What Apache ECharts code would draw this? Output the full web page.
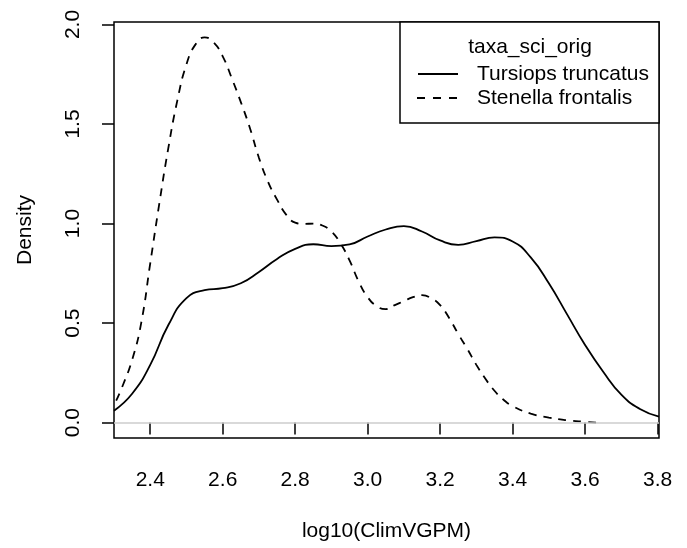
<!DOCTYPE html>
<html>
<head>
<meta charset="utf-8">
<script src="https://cdn.jsdelivr.net/npm/echarts@6/dist/echarts.min.js"></script>
<style>
  html, body { margin: 0; padding: 0; background: #fff; }
  #chart { width: 687px; height: 548px; }
</style>
</head>
<body>
<div id="chart"></div>
<script>
const FONT = "Liberation Sans, Arial, Helvetica, sans-serif"

// tick positions
const xTicks = [2.4, 2.6, 2.8, 3.0, 3.2, 3.4, 3.6, 3.8]
const yTicks = [0, 0.5, 1.0, 1.5, 2.0]

const legendTitle = "taxa_sci_orig"
const seriesNames = ["Tursiops truncatus", "Stenella frontalis"]

// density estimates: [x, density]
const tursiops = [
    [2.30, 0.06], [2.35, 0.145], [2.40, 0.29], [2.45, 0.49], [2.50, 0.625],
    [2.55, 0.665], [2.60, 0.675], [2.65, 0.70], [2.70, 0.757], [2.75, 0.822],
    [2.80, 0.873], [2.85, 0.896], [2.90, 0.886], [2.95, 0.895], [3.00, 0.935],
    [3.05, 0.97], [3.10, 0.987], [3.15, 0.96], [3.20, 0.915], [3.25, 0.893],
    [3.30, 0.912], [3.35, 0.93], [3.40, 0.91], [3.45, 0.83], [3.50, 0.70],
    [3.55, 0.545], [3.60, 0.39], [3.65, 0.255], [3.70, 0.14], [3.75, 0.07],
    [3.804, 0.03],
]
const stenella = [
    [2.306, 0.11], [2.325, 0.19], [2.35, 0.315], [2.375, 0.50], [2.40, 0.80],
    [2.425, 1.10], [2.45, 1.38], [2.475, 1.62], [2.50, 1.80], [2.525, 1.90],
    [2.55, 1.935], [2.575, 1.91], [2.60, 1.84], [2.625, 1.73], [2.65, 1.61],
    [2.675, 1.48], [2.70, 1.33], [2.725, 1.21], [2.75, 1.12], [2.775, 1.045],
    [2.80, 1.005], [2.825, 0.998], [2.85, 1.0], [2.875, 0.99], [2.90, 0.96],
    [2.925, 0.90], [2.95, 0.815], [2.975, 0.71], [3.00, 0.63], [3.025, 0.585],
    [3.05, 0.57], [3.075, 0.59], [3.10, 0.61], [3.125, 0.63], [3.15, 0.64],
    [3.175, 0.625], [3.20, 0.59], [3.225, 0.525], [3.25, 0.445], [3.275, 0.37],
    [3.30, 0.29], [3.325, 0.22], [3.35, 0.16], [3.375, 0.115], [3.40, 0.083],
    [3.45, 0.045], [3.50, 0.025], [3.55, 0.012], [3.60, 0.004], [3.633, 0.0],
]

const chart = echarts.init(document.getElementById("chart"), null, { renderer: "canvas" })

const tickStyle = { color: "#000", width: 1.5 }
const labelStyle = {
    color: "#000",
    fontSize: 21,
    fontFamily: FONT,
}

const option = {
    animation: false,
    backgroundColor: "#fff",
    grid: {
        left: 114,
        right: 28,
        top: 22,
        bottom: 110,
        show: true,
        borderColor: "#000",
        borderWidth: 1.5,
        outerBoundsMode: "none",
    },
    xAxis: {
        type: "value",
        min: 2.3,
        max: 3.804,
        name: "log10(ClimVGPM)",
        nameLocation: "middle",
        nameGap: 83,
        nameTextStyle: labelStyle,
        axisLine: { show: false },
        splitLine: { show: false },
        axisTick: { customValues: xTicks, length: 12, lineStyle: tickStyle },
        axisLabel: {
            customValues: xTicks,
            margin: 32,
            formatter: v => v.toFixed(1),
            ...labelStyle,
        },
    },
    yAxis: {
        type: "value",
        min: -0.0774,
        max: 2.0124,
        name: "Density",
        nameLocation: "middle",
        nameGap: 78,
        nameTextStyle: labelStyle,
        axisLine: { show: false },
        splitLine: { show: false },
        axisTick: { customValues: yTicks, length: 12, lineStyle: tickStyle },
        axisLabel: {
            customValues: yTicks,
            rotate: 90,
            margin: 30,
            formatter: v => v.toFixed(1),
            ...labelStyle,
        },
    },
    series: [
        {
            name: seriesNames[0],
            type: "line",
            data: tursiops,
            showSymbol: false,
            smooth: 0.5,
            lineStyle: { color: "#000", width: 1.8, type: "solid" },
            markLine: {
                silent: true,
                symbol: "none",
                label: { show: false },
                lineStyle: { color: "#cccccc", width: 1.5, type: "solid" },
                data: [{ yAxis: 0 }],
            },
            z: 3,
        },
        {
            name: seriesNames[1],
            type: "line",
            data: stenella,
            showSymbol: false,
            smooth: 0.5,
            lineStyle: { color: "#000", width: 1.8, type: [8, 7] },
            z: 3,
        },
    ],
    graphic: [
        {
            type: "rect",
            shape: { x: 400, y: 22, width: 259, height: 101 },
            style: { fill: "#fff", stroke: "#000", lineWidth: 1.5 },
            z: 10,
        },
        {
            type: "text",
            x: 530,
            y: 47,
            style: {
                text: legendTitle,
                textAlign: "center",
                textVerticalAlign: "middle",
                fill: "#000",
                font: "21px " + FONT,
            },
            z: 11,
        },
        {
            type: "line",
            shape: { x1: 418, y1: 74, x2: 458, y2: 74 },
            style: { stroke: "#000", lineWidth: 1.8 },
            z: 11,
        },
        {
            type: "line",
            shape: { x1: 417, y1: 98, x2: 458, y2: 98 },
            style: { stroke: "#000", lineWidth: 1.8, lineDash: [8, 8] },
            z: 11,
        },
        {
            type: "text",
            x: 477,
            y: 74,
            style: {
                text: seriesNames[0],
                textAlign: "left",
                textVerticalAlign: "middle",
                fill: "#000",
                font: "21px " + FONT,
            },
            z: 11,
        },
        {
            type: "text",
            x: 477,
            y: 98,
            style: {
                text: seriesNames[1],
                textAlign: "left",
                textVerticalAlign: "middle",
                fill: "#000",
                font: "21px " + FONT,
            },
            z: 11,
        },
    ],
}

chart.setOption(option)
</script>
</body>
</html>
